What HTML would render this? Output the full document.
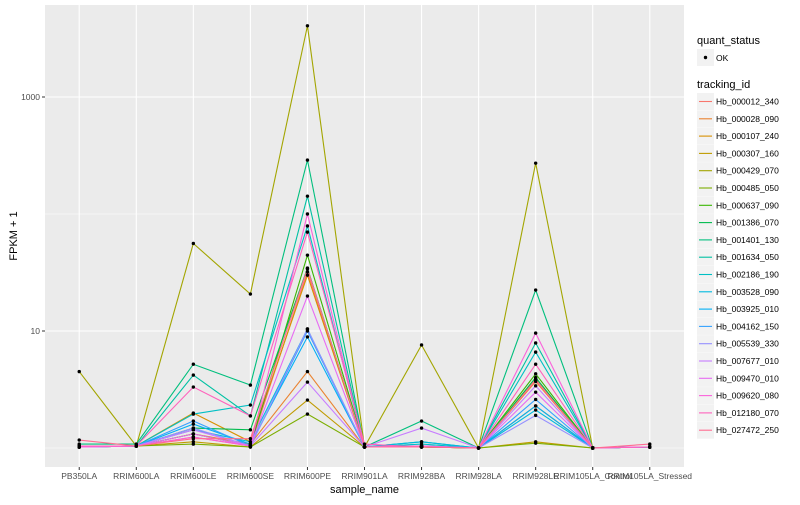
<!DOCTYPE html>
<html><head><meta charset="utf-8"><style>
body{margin:0;background:#fff;font-family:"Liberation Sans",sans-serif}
svg text{font-family:"Liberation Sans",sans-serif}
</style></head><body>
<svg id="c" width="800" height="500"></svg>
<script>
const categories=["PB350LA","RRIM600LA","RRIM600LE","RRIM600SE","RRIM600PE","RRIM901LA","RRIM928BA","RRIM928LA","RRIM928LE","RRIM105LA_Control","RRIM105LA_Stressed"];
const seriesNames=["Hb_000012_340","Hb_000028_090","Hb_000107_240","Hb_000307_160","Hb_000429_070","Hb_000485_050","Hb_000637_090","Hb_001386_070","Hb_001401_130","Hb_001634_050","Hb_002186_190","Hb_003528_090","Hb_003925_010","Hb_004162_150","Hb_005539_330","Hb_007677_010","Hb_009470_010","Hb_009620_080","Hb_012180_070","Hb_027472_250"];
const seriesColors=["#F8766D","#EA8331","#D89000","#C09B00","#A3A500","#7CAE00","#39B600","#00BB4E","#00BF7D","#00C1A3","#00BFC4","#00BAE0","#00B0F6","#35A2FF","#9590FF","#C77CFF","#E76BF3","#FA62DB","#FF62BC","#FF6C91"];
const s0=[1.04,1.04,1.24,1.04,32,1.02,1.02,1,3.9,1,1.02];
const s1=[1.02,1.04,1.32,1.08,4.5,1.02,1.02,1,3.7,1,1.02];
const s2=[1.02,1.04,1.99,1.13,30,1.02,1.02,1,2.29,1,1.02];
const s3=[1.02,1.04,1.13,1.02,2.57,1.02,1.02,1,1.13,1,1.02];
const s4=[4.5,1.04,56,20.7,4060,1.02,7.6,1,272,1,1.02];
const s5=[1.02,1.04,1.08,1.02,1.95,1.02,1.02,1,1.1,1,1.02];
const s6=[1.02,1.04,1.32,1.04,44.5,1.02,1.02,1,4.3,1,1.02];
const s7=[1.02,1.04,1.48,1.43,34.5,1.02,1.04,1,4.0,1,1.02];
const s8=[1.08,1.08,5.2,3.45,289,1.02,1.7,1,22.4,1,1.02];
const s9=[1.04,1.04,4.2,1.88,142,1.02,1.13,1,7.9,1,1.02];
const s10=[1.04,1.04,1.95,2.33,79,1.02,1.08,1,6.6,1,1.02];
const s11=[1.02,1.04,1.43,1.13,10.4,1.02,1.13,1,2.11,1,1.02];
const s12=[1.02,1.04,1.6,1.08,8.9,1.02,1.04,1,2.29,1,1.02];
const s13=[1.02,1.04,1.7,1.04,10,1.02,1.04,1,2.6,1,1.02];
const s14=[1.02,1.04,1.48,1.04,10.4,1.02,1.04,1,1.9,1,1.02];
const s15=[1.02,1.04,1.43,1.04,3.66,1.02,1.48,1,3.4,1,1.02];
const s16=[1.02,1.04,1.32,1.04,19.9,1.02,1.04,1,3.0,1,1.02];
const s17=[1.02,1.04,1.24,1.04,100,1.02,1.04,1,9.6,1,1.02];
const s18=[1.04,1.04,3.32,1.88,70,1.08,1.02,1,5.2,1,1.02];
const s19=[1.17,1.04,1.2,1.2,34,1.02,1.02,1,3.8,1,1.08];
const seriesValues=[s0,s1,s2,s3,s4,s5,s6,s7,s8,s9,s10,s11,s12,s13,s14,s15,s16,s17,s18,s19];
const yTicks=[10,1000];
const yTickLabels=["10","1000"];

const NS="http://www.w3.org/2000/svg";
const svg=document.getElementById('c');
function el(t,a,p){const e=document.createElementNS(NS,t);for(const k in a)e.setAttribute(k,a[k]);(p||svg).appendChild(e);return e;}
const PL=45,PR=684,PT=5,PB=467;
const step=(PR-PL)/(categories.length-1+1.2);
function xs(i){return PL+step*(0.6+i);}
function ys(v){return 448-117*Math.log10(v);}
const panel=el('rect',{x:PL,y:PT,width:PR-PL,height:PB-PT,fill:'#EBEBEB'});


[1,100].forEach(v=>{const g=el('line',{x1:PL,x2:PR,y1:ys(v),y2:ys(v),stroke:'#fff','stroke-width':0.5});

});
yTicks.forEach((v,i)=>{const y=ys(v);
const g=el('line',{x1:PL,x2:PR,y1:y,y2:y,stroke:'#fff','stroke-width':1.1});


const tk=el('line',{x1:PL-3,x2:PL,y1:y,y2:y,stroke:'#333','stroke-width':1});


const t=el('text',{x:PL-5,y:y+3,'text-anchor':'end','font-size':8.5,fill:'#4D4D4D'});t.textContent=yTickLabels[i];

});
categories.forEach((c,i)=>{const x=xs(i);
const g=el('line',{x1:x,x2:x,y1:PT,y2:PB,stroke:'#fff','stroke-width':1.1});


const tk=el('line',{x1:x,x2:x,y1:PB,y2:PB+3,stroke:'#333','stroke-width':1});


const t=el('text',{x:x,y:479,'text-anchor':'middle','font-size':8.5,fill:'#4D4D4D'});t.textContent=c;

});
seriesValues.forEach((vals,si)=>{
const pts=vals.map((v,i)=>xs(i)+','+ys(v)).join(' ');
const l=el('polyline',{points:pts,fill:'none',stroke:seriesColors[si],'stroke-width':1.1});

});
seriesValues.forEach((vals,si)=>{vals.forEach((v,i)=>{
const p=el('circle',{cx:xs(i),cy:ys(v),r:1.7,fill:'#000'});

});});
const xt=el('text',{x:(PL+PR)/2,y:493,'text-anchor':'middle','font-size':11,fill:'#000'});xt.textContent='sample_name';


const yt=el('text',{x:0,y:0,'text-anchor':'middle','font-size':11,fill:'#000',transform:'translate(17,'+((PT+PB)/2)+') rotate(-90)'});yt.textContent='FPKM + 1';


// legend
const lt1=el('text',{x:697,y:44,'font-size':11,fill:'#000'});lt1.textContent='quant_status';


const kb=el('rect',{x:697,y:49,width:17,height:17,fill:'#F2F2F2'});


const kd=el('circle',{cx:705.5,cy:57.5,r:1.7,fill:'#000'});


const ok=el('text',{x:716,y:61,'font-size':8.5,fill:'#000'});ok.textContent='OK';


const lt2=el('text',{x:697,y:88,'font-size':11,fill:'#000'});lt2.textContent='tracking_id';


seriesNames.forEach((n,i)=>{const y=93+i*17.3;
const b=el('rect',{x:697,y:y,width:17,height:17,fill:'#F2F2F2'});


const l=el('line',{x1:699,x2:712,y1:y+8.5,y2:y+8.5,stroke:seriesColors[i],'stroke-width':1.1});


const t=el('text',{x:716,y:y+11.5,'font-size':8.5,fill:'#000'});t.textContent=n;

});
</script>
</body></html>
